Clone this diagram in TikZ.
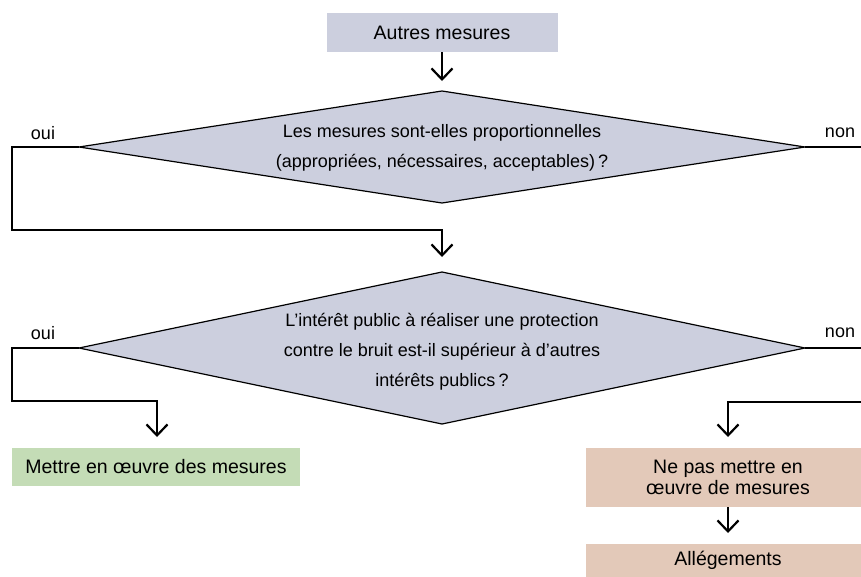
\documentclass[tikz,border=0pt]{standalone}
\usepackage{fontspec}
\setmainfont{Liberation Sans}
\usetikzlibrary{arrows.meta}
\definecolor{qblue}{RGB}{204,207,222}
\definecolor{qgreen}{RGB}{196,220,182}
\definecolor{qbrown}{RGB}{227,201,185}
\tikzset{
  boxtext/.style={font=\fontsize{19.5}{22}\selectfont, inner sep=0pt, align=center},
  qtext/.style={font=\fontsize{18}{30}\selectfont, inner sep=0pt, align=center},
  lbl/.style={font=\fontsize{18}{20}\selectfont, inner sep=0pt},
  diam/.style={draw=black, fill=qblue, line width=1.2pt, line join=miter},
  conn/.style={draw=black, line width=2.4pt, line join=miter},
  arr/.style={draw=black, line width=2.2pt, -{Straight Barb[length=11pt,width=21pt,line width=2.2pt]}},
  fillbox/.style={inner sep=0pt, draw=none}
}
\begin{document}
\begin{tikzpicture}[x=1pt,y=-1pt]
\useasboundingbox (0,0) rectangle (861,576);
\clip (0,0) rectangle (861,576);
% top box
\node[fillbox, fill=qblue, minimum width=231pt, minimum height=39pt] (a) at (442,32.5) {};
\node[boxtext] (at) at (a.center) {Autres mesures};
% diamond 1
\coordinate (d1t) at (442,91);
\coordinate (d1l) at (79,147);
\coordinate (d1r) at (805,147);
\coordinate (d1b) at (442,203);
\path[diam] (d1t) -- (d1r) -- (d1b) -- (d1l) -- cycle;
\node[qtext] (d1) at (442,147.5) {Les mesures sont-elles proportionnelles\\(appropriées, nécessaires, acceptables)\,?};
\node[lbl] (oui1) at (43,133) {oui};
\node[lbl] (non1) at (840,133) {non};
% diamond 2
\coordinate (d2t) at (442,272);
\coordinate (d2l) at (79,348);
\coordinate (d2r) at (805,348);
\coordinate (d2b) at (442,424);
\path[diam] (d2t) -- (d2r) -- (d2b) -- (d2l) -- cycle;
\node[qtext] (d2) at (442,352) {L’intérêt public à réaliser une protection\\contre le bruit est-il supérieur à d’autres\\intérêts publics\,?};
\node[lbl] (oui2) at (43,333) {oui};
\node[lbl] (non2) at (840,333) {non};
% result boxes
\node[fillbox, fill=qgreen, minimum width=288pt, minimum height=38pt] (g) at (156,467) {};
\node[boxtext] (gt) at (g.center) {Mettre en œuvre des mesures};
\node[fillbox, fill=qbrown, minimum width=284pt, minimum height=59pt] (b1) at (728,477.5) {};
\node[boxtext, font=\fontsize{19.5}{21}\selectfont] (b1t) at (b1.center) {Ne pas mettre en\\œuvre de mesures};
\node[fillbox, fill=qbrown, minimum width=284pt, minimum height=40pt] (b2) at (728,564) {};
\node[boxtext] (b2t) at (728,560) {Allégements};
% edge coordinates
\coordinate (e1) at (870,147);
\coordinate (e2) at (870,348);
\coordinate (e3) at (870,402);
% connectors
\draw[arr] (a.south) -- (d1t |- 0,81);
\draw[conn] (d1l) -- (12,147) -- (12,230) -- (442,230);
\draw[arr] (442,229) -- (442,257);
\draw[conn] (d1r) -- (e1);
\draw[conn] (d2l) -- (12,348) -- (12,401) -- (157,401);
\draw[arr] (157,400) -- (157,437);
\draw[conn] (d2r) -- (e2);
\draw[conn] (e3) -- (728,402);
\draw[arr] (728,401) -- (728,437);
\draw[arr] (b1.south) -- (728,533);
\end{tikzpicture}
\end{document}
